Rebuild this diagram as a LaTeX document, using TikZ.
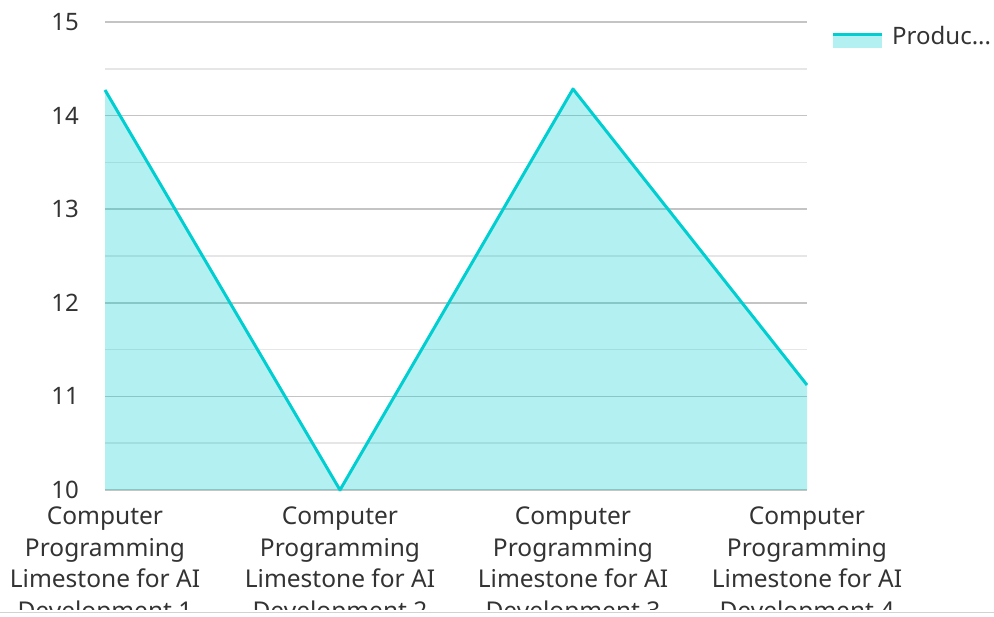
\documentclass[tikz,border=0pt]{standalone}
\usepackage{fontspec}
\setmainfont{Noto Sans}
\definecolor{teal1}{RGB}{0,206,209}
\definecolor{gridmaj}{RGB}{196,196,196}
\definecolor{gridmin}{RGB}{230,230,230}
\definecolor{txt}{RGB}{51,51,51}
\definecolor{axisln}{RGB}{210,210,210}
\begin{document}
\begin{tikzpicture}[x=1pt,y=-1pt,
  major/.style={draw=gridmaj,line width=1.5pt},
  minor/.style={draw=gridmin,line width=1.5pt},
  ticklbl/.style={font=\fontsize{24}{30}\selectfont,text=txt,anchor=east,inner sep=0pt},
  catlbl/.style={font=\fontsize{24.5}{31.5}\selectfont,text=txt,align=center,anchor=north,inner sep=0pt},
  series/.style={draw=teal1,line width=3pt,line join=round},
  area/.style={fill=teal1,fill opacity=0.3}]
\useasboundingbox (0,0) rectangle (994,617);
% grid
\foreach \v in {10,...,15} {
  \draw[major] (105,{490-(\v-10)*93.6}) -- (807,{490-(\v-10)*93.6});
  \node[ticklbl] (t\v) at (79,{490-(\v-10)*93.6}) {\v};
}
\foreach \v in {10.5,11.5,12.5,13.5,14.5} {
  \draw[minor] (105,{490-(\v-10)*93.6}) -- (807,{490-(\v-10)*93.6});
}
% data
\coordinate (p1) at (105,90);
\coordinate (p2) at (340,490);
\coordinate (p3) at (573,89);
\coordinate (p4) at (807,385);
\coordinate (b1) at (105,490);
\coordinate (b4) at (807,490);
\fill[area] (b1) -- (p1) -- (p2) -- (p3) -- (p4) -- (b4) -- cycle;
\draw[series] (p1) -- (p2) -- (p3) -- (p4);
% category labels
\begin{scope}
\clip (0,495) rectangle (994,609.5);
\foreach \i/\x in {1/105,2/340,3/573,4/807} {
  \node[catlbl] (c\i) at (\x,507) {Computer\\Programming\\Limestone for AI\\Development \i};
}
\end{scope}
\draw[axisln,line width=1.2pt] (0,612.7) -- (994,612.7);
% legend
\coordinate (l1) at (833,35);
\coordinate (l2) at (882,35);
\fill[area] (833,35) rectangle (882,48);
\draw[series,line cap=butt] (l1) -- (l2);
\node[font=\fontsize{24}{30}\selectfont,text=txt,anchor=west,inner sep=0pt] (leg) at (892,36) {Produc...};
\end{tikzpicture}
\end{document}
